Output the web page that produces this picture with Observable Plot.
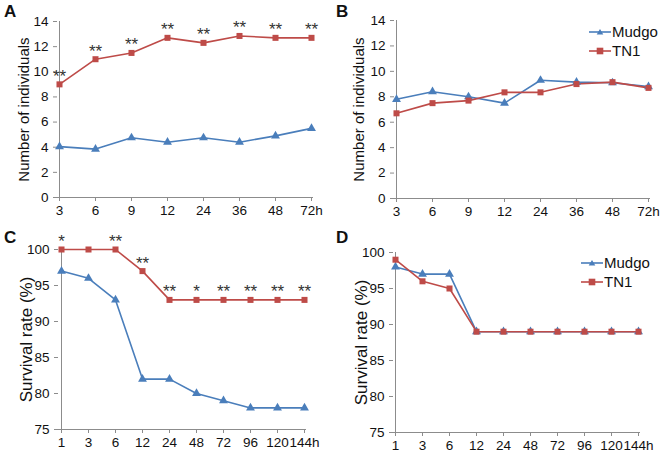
<!DOCTYPE html>
<html>
<head>
<meta charset="utf-8">
<script src="https://cdn.jsdelivr.net/npm/d3@7"></script>
<script src="https://cdn.jsdelivr.net/npm/@observablehq/plot@0.6"></script>
<style>
  html, body { margin: 0; padding: 0; background: #fff; }
  #fig { position: relative; width: 669px; height: 455px; font-family: "Liberation Sans", Arial, sans-serif; }
  .panel { position: absolute; }
  .letter { position: absolute; font-weight: bold; font-size: 17px; color: #111; }
  .legend { position: absolute; font-size: 15px; color: #111; }
  .legend div { display: flex; align-items: center; height: 19px; }
  .legend svg { margin-right: 1px; }
</style>
</head>
<body>
<div id="fig"></div>
<script>
// ---- data ----
const hoursAB = ["3", "6", "9", "12", "24", "36", "48", "72"];
const mudgoA = [4.05, 3.85, 4.75, 4.4, 4.75, 4.4, 4.9, 5.5];
const tn1A   = [9.0, 11.0, 11.5, 12.7, 12.3, 12.85, 12.7, 12.7];
const starsA = ["**", "**", "**", "**", "**", "**", "**", "**"];

const mudgoB = [7.8, 8.4, 8.0, 7.5, 9.3, 9.15, 9.1, 8.8];
const tn1B   = [6.7, 7.5, 7.7, 8.35, 8.35, 9.0, 9.15, 8.7];

const hoursCD = ["1", "3", "6", "12", "24", "48", "72", "96", "120", "144"];
const mudgoC = [97, 96, 93, 82, 82, 80, 79, 78, 78, 78];
const tn1C   = [100, 100, 100, 97, 93, 93, 93, 93, 93, 93];
const starsC = ["*", "", "**", "**", "**", "*", "**", "**", "**", "**"];

const mudgoD = [98, 97, 97, 89, 89, 89, 89, 89, 89, 89];
const tn1D   = [99, 96, 95, 89, 89, 89, 89, 89, 89, 89];

const seriesNames = ["Mudgo", "TN1"];
const blue = "#4a7ebb", red = "#be4b48", axisGray = "#8c8c8c";

function panel(opts) {
  const {cats, mudgo, tn1, stars, yDomain, yTicks, yLabel, labelSize, labelPos, m, w, h} = opts;
  const last = cats[cats.length - 1];
  const md = cats.map((c, i) => ({x: c, y: mudgo[i]}));
  const td = cats.map((c, i) => ({x: c, y: tn1[i]}));
  const sd = stars ? cats.map((c, i) => ({x: c, y: tn1[i], t: stars[i]})) : [];
  return Plot.plot({
    width: w, height: h,
    marginLeft: m[0], marginTop: m[1], marginRight: m[2], marginBottom: m[3],
    style: {fontFamily: "Liberation Sans, Arial, sans-serif", fontSize: "13.5px", color: "#111", background: "#fff", overflow: "visible"},
    x: {type: "point", domain: cats, padding: 0},
    y: {domain: yDomain},
    marks: [
      Plot.axisX({ticks: cats, tickSize: 4, tickPadding: 4, stroke: axisGray, fill: "#111", fontSize: 13.5,
                  tickFormat: d => d === last ? d + "h" : d, label: null}),
      Plot.axisY({ticks: yTicks, tickSize: 4, tickPadding: 5, stroke: axisGray, fill: "#111", fontSize: 13.5, label: null}),
      Plot.axisY({ticks: [], tickSize: 0, label: yLabel, labelAnchor: "center", labelArrow: "none",
                  labelOffset: m[0] - labelPos, fontSize: labelSize, fill: "#111"}),
      Plot.ruleY([yDomain[0]], {stroke: axisGray}),
      Plot.ruleX([cats[0]], {stroke: axisGray}),
      Plot.line(md, {x: "x", y: "y", stroke: blue, strokeWidth: 1.6}),
      Plot.line(td, {x: "x", y: "y", stroke: red, strokeWidth: 1.6}),
      Plot.dot(md, {x: "x", y: "y", symbol: "triangle", fill: blue, r: 3.3}),
      Plot.dot(td, {x: "x", y: "y", symbol: "square", fill: red, r: 3.4}),
      Plot.text(sd, {x: "x", y: "y", text: "t", dy: -8, fill: "#333", fontSize: 17})
    ]
  });
}

const fig = document.getElementById("fig");
function place(node, left, top) {
  const d = document.createElement("div");
  d.className = "panel"; d.style.left = left + "px"; d.style.top = top + "px";
  d.appendChild(node); fig.appendChild(d);
}
function letter(t, left, top) {
  const d = document.createElement("div");
  d.className = "letter"; d.textContent = t; d.style.left = left + "px"; d.style.top = top + "px";
  fig.appendChild(d);
}
function legend(left, top) {
  const d = document.createElement("div");
  d.className = "legend"; d.style.left = left + "px"; d.style.top = top + "px";
  const items = [[seriesNames[0], blue, "tri"], [seriesNames[1], red, "sq"]];
  for (const [name, col, sym] of items) {
    const row = document.createElement("div");
    const marker = sym === "tri"
      ? `<polygon points="11,2 14.3,7.5 7.7,7.5" fill="${col}"/>`
      : `<rect x="7.7" y="1.7" width="6.6" height="6.6" fill="${col}"/>`;
    row.innerHTML = `<svg width="22" height="10"><line x1="0" x2="22" y1="5" y2="5" stroke="${col}" stroke-width="1.6"/>${marker}</svg><span>${name}</span>`;
    d.appendChild(row);
  }
  fig.appendChild(d);
}

const yTicksAB = [0, 2, 4, 6, 8, 10, 12, 14];
const yTicksCD = [75, 80, 85, 90, 95, 100];

place(panel({cats: hoursAB, mudgo: mudgoA, tn1: tn1A, stars: starsA, yDomain: [0, 14], yTicks: yTicksAB,
  yLabel: "Number of individuals", labelSize: 15, labelPos: 18, m: [57, 21, 21, 30], w: 334, h: 227}), 0, 0);
place(panel({cats: hoursAB, mudgo: mudgoB, tn1: tn1B, stars: null, yDomain: [0, 14], yTicks: yTicksAB,
  yLabel: "Number of individuals", labelSize: 15, labelPos: 18, m: [59, 20, 19, 29], w: 334, h: 227}), 335, 0);
place(panel({cats: hoursCD, mudgo: mudgoC, tn1: tn1C, stars: starsC, yDomain: [75, 100], yTicks: yTicksCD,
  yLabel: "Survival rate (%)", labelSize: 17, labelPos: 19, m: [58, 22, 28, 26], w: 334, h: 228}), 0, 227);
place(panel({cats: hoursCD, mudgo: mudgoD, tn1: tn1D, stars: null, yDomain: [75, 100], yTicks: yTicksCD,
  yLabel: "Survival rate (%)", labelSize: 17, labelPos: 19, m: [58, 25, 29, 23], w: 334, h: 228}), 335, 227);

letter("A", 4, 2); letter("B", 336, 2); letter("C", 4, 228); letter("D", 336, 228);
legend(589, 22); legend(581, 253);
</script>
</body>
</html>
